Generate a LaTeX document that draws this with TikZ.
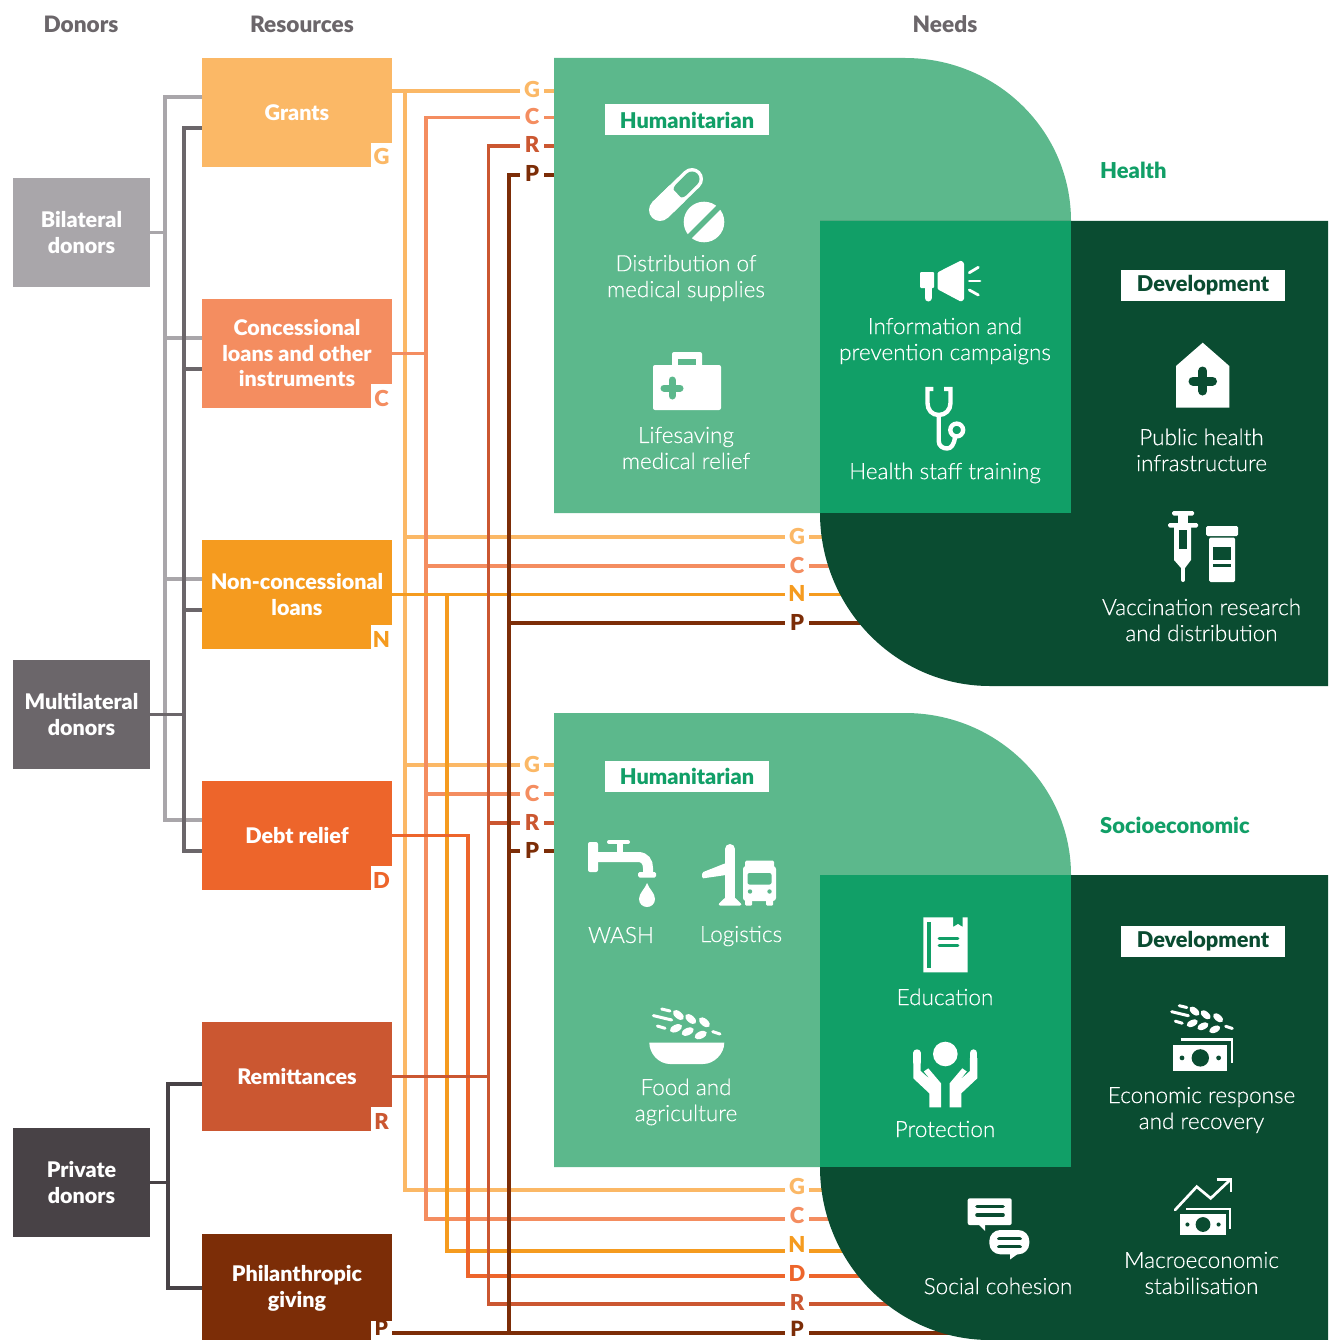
\documentclass[tikz,border=0pt]{standalone}
\usepackage{fontspec}
\setmainfont{Lato Light}[FakeBold=0.35]
\newfontfamily\heavyfont{Lato Black}
\definecolor{bilateralc}{HTML}{A9A6AA}
\definecolor{multilateralc}{HTML}{6B666A}
\definecolor{privatec}{HTML}{484246}
\definecolor{grantc}{HTML}{FBB866}
\definecolor{concc}{HTML}{F48D60}
\definecolor{nonconc}{HTML}{F59B1F}
\definecolor{debtc}{HTML}{ED652B}
\definecolor{remitc}{HTML}{CB5731}
\definecolor{philc}{HTML}{7C2D07}
\definecolor{humc}{HTML}{5CB88C}
\definecolor{nexusc}{HTML}{119F67}
\definecolor{devc}{HTML}{0A4C31}
\tikzset{
  headtext/.style={font=\fontsize{22.6}{26}\selectfont\heavyfont,text=multilateralc},
  donorbox/.style={minimum width=137,minimum height=109,inner sep=0,align=center,text=white,
    font=\fontsize{21.5}{25.5}\selectfont\heavyfont},
  resbox/.style={minimum width=190,minimum height=109,inner sep=0,align=center,text=white,
    font=\fontsize{21.5}{25.5}\selectfont\heavyfont},
  restag/.style={fill=white,minimum width=21,minimum height=24,inner sep=0,anchor=south east,
    text height=20,text depth=0,font=\fontsize{22}{22}\selectfont\heavyfont},
  rowtag/.style={minimum width=24,inner sep=0,text height=16,text depth=2,
    font=\fontsize{22}{22}\selectfont\heavyfont},
  needtext/.style={align=center,text=white,inner sep=0,font=\fontsize{22.5}{26}\selectfont},
  banner/.style={fill=white,minimum width=164,minimum height=31,inner sep=0,
    font=\fontsize{21.7}{26}\selectfont\heavyfont},
  sector/.style={anchor=west,inner sep=0,text=nexusc,font=\fontsize{21.9}{26}\selectfont\heavyfont},
  bus/.style={line width=3.2},
  pics/wheat/.style={code={
    \draw[white,line width=3,line cap=round] (-25,-14.3) -- (-16.7,-12.3);
    \draw[white,line width=3,line cap=round] (-33.3,-7.7) -- (-15,-3.3);
    \draw[white,line width=3,line cap=round] (-29.3,2.7) -- (-21.7,5);
    \draw[white,line width=3,line cap=round] (26,8.3) -- (33.3,10.7);
    \fill[white,shift={(-8.3,-8.3)},rotate=-40] (0,0) ellipse [x radius=6.5pt,y radius=3.6pt];
    \fill[white,shift={(4,-4.3)},rotate=-40] (0,0) ellipse [x radius=6.5pt,y radius=3.6pt];
    \fill[white,shift={(17.7,-1)},rotate=-40] (0,0) ellipse [x radius=6.5pt,y radius=3.6pt];
    \fill[white,shift={(-10.7,5)},rotate=25] (0,0) ellipse [x radius=6.5pt,y radius=3.6pt];
    \fill[white,shift={(1,8.3)},rotate=25] (0,0) ellipse [x radius=6.5pt,y radius=3.6pt];
    \fill[white,shift={(14,11.7)},rotate=25] (0,0) ellipse [x radius=6.5pt,y radius=3.6pt];
  }},
  pics/money/.style={code={
    \draw[white,line width=2.7] (-19.6,-18.2) -- (31.7,-18.2) -- (31.7,4.8);
    \fill[white] (-27,-12.8) rectangle (27,12.8);
    \fill[devc] (0,0) circle [radius=8.7pt];
    \fill[devc] (-18.3,0) circle [radius=2.4pt];
    \fill[devc] (18.3,0) circle [radius=2.4pt];
  }},
  pics/palm/.style={code={
    \draw[white,line width=7.4,line cap=round] (-28.3,-1) -- (-28.3,8);
    \fill[white] (-32,4) -- (-32,24.3) -- (-16,39.3) -- (-16,53.3) -- (-4.3,53.3) -- (-4.3,29.3)
      -- (-17,14.3) -- (-21.5,17.5) -- (-15,25.5) -- (-24.6,17) -- (-24.6,4) -- cycle;
  }}
}
\begin{document}
\begin{tikzpicture}[x=1pt,y=-1pt]
      \path[use as bounding box,clip] (0,0) rectangle (1328,1340);
      \draw
        (81,24) node[headtext] (donorhead){Donors}
        (302,24) node[headtext] (resourcehead){Resources}
        (945,24) node[headtext] (needhead){Needs}
        (81.5,232.5) node[donorbox,fill=bilateralc] (bilateral){Bilateral\\donors}
        (81.5,714.5) node[donorbox,fill=multilateralc] (multilateral){Multilateral\\donors}
        (81.5,1182.5) node[donorbox,fill=privatec] (private){Private\\donors}
        (297,112.5) node[resbox,fill=grantc] (grants){Grants}
        (297,353.5) node[resbox,fill=concc] (conc){Concessional\\loans and other\\instruments}
        (297,594.5) node[resbox,fill=nonconc] (noncon){Non-concessional\\loans}
        (297,835.5) node[resbox,fill=debtc] (debt){Debt relief}
        (297,1076.5) node[resbox,fill=remitc] (remit){Remittances}
        (297,1288.5) node[resbox,fill=philc] (phil){Philanthropic\\giving};
      \draw
        (grants.south east) node[restag,text=grantc] (grantstag){G}
        (conc.south east) node[restag,text=concc] (conctag){C}
        (noncon.south east) node[restag,text=nonconc] (noncontag){N}
        (debt.south east) node[restag,text=debtc] (debttag){D}
        (remit.south east) node[restag,text=remitc] (remittag){R}
        (392,1340) node[restag,text=philc,minimum height=19,text height=14,text depth=3,
          font=\fontsize{21}{21}\selectfont\heavyfont] (philtag){P};
      \draw
        (532,91) node[rowtag,text=grantc] (gA){G}
        (532,117.5) node[rowtag,text=concc] (cA){C}
        (532,146) node[rowtag,text=remitc] (rA){R}
        (532,175) node[rowtag,text=philc] (pA){P}
        (797,537) node[rowtag,text=grantc] (gB){G}
        (797,566) node[rowtag,text=concc] (cB){C}
        (797,594.5) node[rowtag,text=nonconc] (nB){N}
        (797,623) node[rowtag,text=philc] (pB){P}
        (532,765) node[rowtag,text=grantc] (gC){G}
        (532,794) node[rowtag,text=concc] (cC){C}
        (532,823) node[rowtag,text=remitc] (rC){R}
        (532,851) node[rowtag,text=philc] (pC){P}
        (797,1187) node[rowtag,text=grantc] (gD){G}
        (797,1216) node[rowtag,text=concc] (cD){C}
        (797,1245) node[rowtag,text=nonconc] (nD){N}
        (797,1274) node[rowtag,text=debtc] (dD){D}
        (797,1303) node[rowtag,text=remitc] (rD){R}
        (797,1333) node[rowtag,text=philc,text height=16,text depth=10,
          font=\fontsize{21}{21}\selectfont\heavyfont] (pD){P};
      \coordinate (lightbus) at (165,0);
      \coordinate (darkbus) at (184,0);
      \coordinate (privatebus) at (168,0);
      \coordinate (gbus) at (405,0);
      \coordinate (cbus) at (426,0);
      \coordinate (nbus) at (447,0);
      \coordinate (dbus) at (468,0);
      \coordinate (rbus) at (488.5,0);
      \coordinate (pbus) at (509,0);
      \coordinate (humedge) at (565,0);
      \coordinate (devedge) at (1000,0);
      \coordinate (grantsL) at (202,97);
      \coordinate (concL) at (202,338);
      \coordinate (nonconL) at (202,579);
      \coordinate (debtL) at (202,820);
      \coordinate (grantsD) at (202,128);
      \coordinate (concD) at (202,369);
      \coordinate (nonconD) at (202,610);
      \coordinate (debtD) at (202,851);
      \coordinate (remitP) at (202,1084);
      \coordinate (philP) at (202,1288);
      \coordinate (gDline) at (785,1190);
      \coordinate (cDline) at (785,1219);
      \coordinate (nDline) at (785,1251);
      \coordinate (dDline) at (785,1276);
      \coordinate (rDline) at (785,1304);
      \begin{scope}[bus,bilateralc]
        \draw (grantsL) -- (lightbus |- grantsL) -- (lightbus |- debtL) -- (debtL);
        \draw (concL) -- (lightbus |- concL);
        \draw (nonconL) -- (lightbus |- nonconL);
        \draw (bilateral.east) -- (lightbus |- bilateral.east);
      \end{scope}
      \begin{scope}[bus,multilateralc]
        \draw (grantsD) -- (darkbus |- grantsD) -- (darkbus |- debtD) -- (debtD);
        \draw (concD) -- (darkbus |- concD);
        \draw (nonconD) -- (darkbus |- nonconD);
        \draw (multilateral.east) -- (darkbus |- multilateral.east);
      \end{scope}
      \begin{scope}[bus,privatec]
        \draw (remitP) -- (privatebus |- remitP) -- (privatebus |- philP) -- (philP);
        \draw (private.east) -- (privatebus |- private.east);
      \end{scope}
      \begin{scope}[bus,grantc]
        \draw (grants.east |- gA) -- (gA);
        \draw (gA) -- (humedge |- gA);
        \draw (gbus |- gA) |- (gDline);
        \draw (gD.east |- gDline) -- (devedge |- gDline);
        \draw (gbus |- gB) -- (gB);
        \draw (gB) -- (devedge |- gB);
        \draw (gbus |- gC) -- (gC);
        \draw (gC) -- (humedge |- gC);
      \end{scope}
      \begin{scope}[bus,concc]
        \draw (conc.east) -- (cbus |- conc.east);
        \draw (cA) -| (cbus |- cDline) -- (cDline);
        \draw (cA) -- (humedge |- cA);
        \draw (cD.east |- cDline) -- (devedge |- cDline);
        \draw (cbus |- cB) -- (cB);
        \draw (cB) -- (devedge |- cB);
        \draw (cbus |- cC) -- (cC);
        \draw (cC) -- (humedge |- cC);
      \end{scope}
      \begin{scope}[bus,nonconc]
        \draw (noncon.east) -- (nB);
        \draw (nB) -- (devedge |- nB);
        \draw (nbus |- nB) |- (nDline);
        \draw (nD.east |- nDline) -- (devedge |- nDline);
      \end{scope}
      \begin{scope}[bus,debtc]
        \draw (debt.east) -- (dbus |- debt.east) |- (dDline);
        \draw (dD.east |- dDline) -- (devedge |- dDline);
      \end{scope}
      \begin{scope}[bus,remitc]
        \draw (remit.east) -- (rbus |- remit.east);
        \draw (rA) -- (rbus |- rA) |- (rDline);
        \draw (rA) -- (humedge |- rA);
        \draw (rD.east |- rDline) -- (devedge |- rDline);
        \draw (rbus |- rC) -- (rC);
        \draw (rC) -- (humedge |- rC);
      \end{scope}
      \begin{scope}[bus,philc]
        \draw (philtag.east |- pD) -- (pD);
        \draw (pD) -- (devedge |- pD);
        \draw (pA) -- (pbus |- pA) -- (pbus |- pD);
        \draw (pA) -- (humedge |- pA);
        \draw (pbus |- pB) -- (pB);
        \draw (pB) -- (devedge |- pB);
        \draw (pbus |- pC) -- (pC);
        \draw (pC) -- (humedge |- pC);
      \end{scope}
      % health block
      \fill[humc] (554,58) -- (905,58) .. controls (997,58) and (1071,131) .. (1071,221)
        -- (1071,513) -- (554,513) -- cycle;
      \fill[devc] (820,221) -- (1328,221) -- (1328,686) -- (990,686)
        .. controls (896,686) and (820,608) .. (820,513) -- cycle;
      \fill[nexusc] (820,221) rectangle (1071,513);
      % socioeconomic block
      \fill[humc] (554,713) -- (905,713) .. controls (997,713) and (1071,786) .. (1071,875)
        -- (1071,1167) -- (554,1167) -- cycle;
      \fill[devc] (820,875) -- (1328,875) -- (1328,1340) -- (990,1340)
        .. controls (896,1340) and (820,1262) .. (820,1167) -- cycle;
      \fill[nexusc] (820,875) rectangle (1071,1167);
      \draw
        (687,120) node[banner,text=nexusc] (humA){Humanitarian}
        (687,776) node[banner,text=nexusc] (humB){Humanitarian}
        (1203,285) node[banner,text=devc] (devA){Development}
        (1203,941) node[banner,text=devc] (devB){Development}
        (1100,170.5) node[sector] (health){Health}
        (1100,825.5) node[sector] (socio){Socioeconomic}
        (686,278) node[needtext] (supplies){Distribution of\\medical supplies}
        (686,448) node[needtext] (relief){Lifesaving\\medical relief}
        (945,341) node[needtext] (campaigns){Information and\\prevention campaigns}
        (945,473) node[needtext] (training){Health staff training}
        (1201.5,450) node[needtext] (infra){Public health\\infrastructure}
        (1201.5,620) node[needtext] (vaccine){Vaccination research\\and distribution}
        (621,935) node[needtext] (wash){WASH}
        (741,936) node[needtext] (logistics){Logistics}
        (686,1102) node[needtext] (food){Food and\\agriculture}
        (945,997) node[needtext] (education){Education}
        (945,1129) node[needtext] (protection){Protection}
        (1201.5,1110) node[needtext] (recovery){Economic response\\and recovery}
        (1201.5,1273) node[needtext] (macro){Macroeconomic\\stabilisation}
        (998,1286) node[needtext] (cohesion){Social cohesion};
      % capsule and tablet
      \draw[white,line width=22,line cap=round] (660,210) -- (692,179);
      \draw[humc,line width=15,line cap=round] (681,190) -- (692,179);
      \draw[white,line width=22] (660,210) -- (677,193.5);
      \fill[white] (704,222) circle [radius=20.3pt];
      \draw[humc,line width=5.5] (686,240) -- (722,204);
      % case
      \fill[white,rounded corners=2] (672,352) rectangle (702,370);
      \fill[humc] (678,359) rectangle (696,365);
      \fill[white,rounded corners=2] (653,365) rectangle (721,410);
      \draw[humc,line width=7,line cap=round] (664,388) -- (680,388);
      \draw[humc,line width=7,line cap=round] (672,380) -- (672,396);
      % megaphone
      \fill[white,rounded corners=1] (920,272) rectangle (934,288);
      \draw[white,line width=7,line cap=round] (928,286) -- (928,298);
      \fill[white,rounded corners=1] (937.7,272.3) -- (961,260.5) -- (964,263) -- (964,299.5)
        -- (961,301.7) -- (937.7,289.3) -- cycle;
      \draw[white,line width=2.8,line cap=round] (969.3,272.7) -- (978.3,267.3);
      \draw[white,line width=2.8,line cap=round] (969.3,281) -- (980,281);
      \draw[white,line width=2.8,line cap=round] (969.3,290) -- (978.3,295);
      % stethoscope
      \draw[white,line width=4.4] (933.3,389) -- (927.5,389) -- (927.5,403)
        .. controls (927.5,410) and (932,415) .. (938.7,415)
        .. controls (945.5,415) and (950.5,410) .. (950.5,403) -- (950.5,389) -- (944,389);
      \draw[white,line width=4.4] (938.7,415) -- (938.7,441)
        .. controls (938.7,446) and (943,448.5) .. (947,448.5)
        .. controls (951,448.5) and (954,445) .. (955,437);
      \draw[white,line width=4.4] (956.7,430) circle [radius=6.4pt];
      % house
      \fill[white] (1176,366) -- (1202.7,342.7) -- (1229.3,366) -- (1229.3,407.7) -- (1176,407.7) -- cycle;
      \draw[devc,line width=9,line cap=round] (1193,381) -- (1212.5,381);
      \draw[devc,line width=9,line cap=round] (1202.7,371) -- (1202.7,391);
      % syringe and bottle
      \fill[white,rounded corners=1.5] (1172,511) rectangle (1194,515.5);
      \fill[white] (1178,515) rectangle (1188,524);
      \fill[white,rounded corners=1.5] (1168,523) rectangle (1198,527.5);
      \fill[white] (1174,527) -- (1191,527) -- (1191,560) -- (1185,568) -- (1181,568) -- (1174,560) -- cycle;
      \draw[white,line width=4,line cap=round] (1183,566) -- (1183,580);
      \fill[devc] (1179,530) rectangle (1187,549);
      \fill[white,rounded corners=1.5] (1206,526) rectangle (1238,536);
      \fill[white,rounded corners=1.5] (1209,537.5) rectangle (1235,582);
      \fill[devc] (1213,547) rectangle (1231,560);
      \fill[devc] (1213,564) rectangle (1231,566.5);
      % faucet and drop
      \fill[white,rounded corners=2] (588,842) rectangle (598,872);
      \draw[white,line width=10] (597,857) -- (638,857)
        .. controls (645,857) and (648,862) .. (648,868) -- (648,874);
      \fill[white,rounded corners=1.5] (638,872) rectangle (656,877.5);
      \draw[white,line width=4,line cap=round] (609,842) -- (628,842);
      \fill[white] (617,842) rectangle (623,853);
      \fill[white] (647,883) .. controls (649,889) and (655,893) .. (655,899)
        .. controls (655,904) and (651,907) .. (647,907)
        .. controls (643,907) and (639,904) .. (639,899)
        .. controls (639,893) and (645,889) .. (647,883) -- cycle;
      % plane and truck
      \draw[white,line width=10,line cap=round] (730,849) -- (730,898);
      \fill[white,rounded corners=1.5] (726,863) -- (702,872.5) -- (702,878.5) -- (726,875) -- cycle;
      \fill[white,rounded corners=1] (730,893) -- (741.5,904) -- (741,905.5) -- (719,905.5) -- (718.5,904) -- cycle;
      \fill[white,rounded corners=1.5] (745,860.5) rectangle (774,869);
      \fill[white,rounded corners=3] (743,866) rectangle (776,901);
      \fill[humc,rounded corners=2] (747.5,873) rectangle (771.5,884.5);
      \fill[humc] (750,891.5) circle [radius=2.2pt];
      \fill[humc] (769.5,891.5) circle [radius=2.2pt];
      \fill[white,rounded corners=1] (745,899) rectangle (752,905.5);
      \fill[white,rounded corners=1] (766,899) rectangle (773,905.5);
      % bowl
      \path (686.7,1023.3) pic {wheat};
      \fill[white] (649.3,1042.5) -- (724.3,1042.5) .. controls (724.3,1054) and (714,1064) .. (703,1064)
        -- (670,1064) .. controls (659,1064) and (649.3,1054) .. (649.3,1042.5) -- cycle;
      % book
      \fill[white] (923.3,917.3) -- (953,917.3) -- (953,927) -- (958,924) -- (962.7,927) -- (962.7,917.3)
        -- (967.7,917.3) -- (967.7,972.3) -- (923.3,972.3) -- cycle;
      \fill[nexusc] (927.3,921.7) rectangle (931,968.3);
      \draw[nexusc,line width=2.8,line cap=round] (939,938.5) -- (958,938.5);
      \draw[nexusc,line width=2.8,line cap=round] (939,945.5) -- (958,945.5);
      % hands
      \fill[white] (945.3,1054) circle [radius=12.3pt];
      \path (945.3,1054) pic {palm};
      \path (945.3,1054) pic[xscale=-1] {palm};
      % money
      \path (1202,1018.7) pic[scale=.91] {wheat};
      \path (1200.3,1057.9) pic {money};
      \path (1203,1224.5) pic[scale=.85] {money};
      \draw[white,line width=2.7,line cap=round] (1175,1210) -- (1196.7,1186.7) -- (1210.7,1198.3) -- (1230,1180);
      \draw[white,line width=2.7] (1216.7,1179.3) -- (1231,1179.3) -- (1231,1192.3);
      % chat bubbles
      \fill[white,rounded corners=2] (967.7,1198.3) rectangle (1011.7,1225);
      \fill[white] (978,1224) -- (985,1231) -- (985,1224) -- cycle;
      \draw[devc,line width=3.6,line cap=round] (977,1206.5) -- (1003,1206.5);
      \draw[devc,line width=3.6,line cap=round] (977,1215) -- (1003,1215);
      \fill[white,rounded corners=11] (989.3,1230) rectangle (1029.3,1254.3);
      \fill[white] (1010,1253) -- (1010,1259.5) -- (1019,1253) -- cycle;
      \draw[devc,line width=3.8,line cap=round] (999,1238.5) -- (1020,1238.5);
      \draw[devc,line width=3.8,line cap=round] (999,1246.5) -- (1020,1246.5);
    \end{tikzpicture}
\end{document}
